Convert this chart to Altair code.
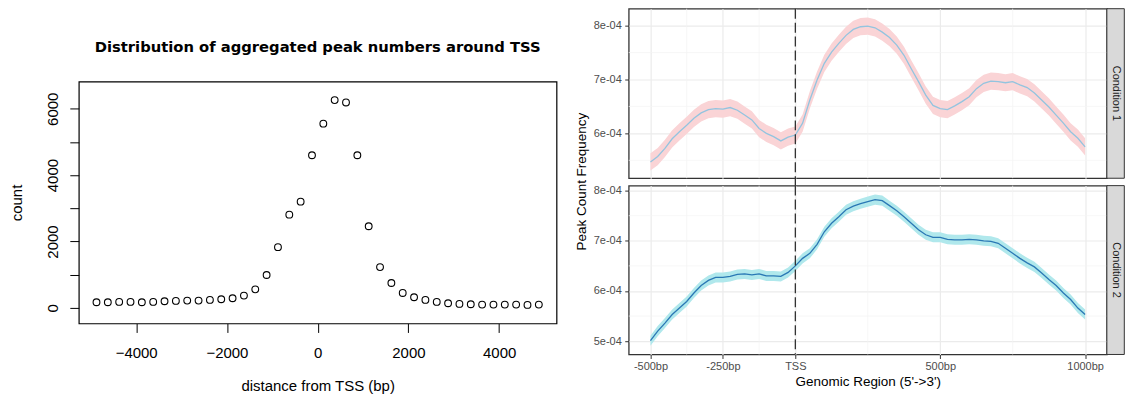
import altair as alt
import pandas as pd

FONT = "Liberation Sans"

# ---------------- left: aggregated peak counts in 250 bp bins ----------------
bin_center = [-4875, -4625, -4375, -4125, -3875, -3625, -3375, -3125, -2875, -2625,
              -2375, -2125, -1875, -1625, -1375, -1125, -875, -625, -375, -125,
              125, 375, 625, 875, 1125, 1375, 1625, 1875, 2125, 2375,
              2625, 2875, 3125, 3375, 3625, 3875, 4125, 4375, 4625, 4875]
peak_count = [170, 170, 180, 180, 170, 180, 200, 210, 220, 220,
              240, 260, 290, 370, 560, 990, 1830, 2810, 3200, 4600,
              5550, 6260, 6190, 4600, 2460, 1230, 750, 450, 320, 240,
              180, 140, 120, 110, 100, 100, 100, 100, 90, 100]
count_ticks = [0, 1000, 2000, 3000, 4000, 5000, 6000]
distance_ticks = [-4000, -2000, 0, 2000, 4000]
main_title = "Distribution of aggregated peak numbers around TSS"

# ---------------- right: peak count frequency profiles ----------------
region_pos = [-500, -475, -450, -425, -400, -375, -350, -325, -300, -275,
              -250, -225, -200, -175, -150, -125, -100, -75, -50, -25,
              0, 25, 50, 75, 100, 125, 150, 175, 200, 225,
              250, 275, 300, 325, 350, 375, 400, 425, 450, 475,
              500, 525, 550, 575, 600, 625, 650, 675, 700, 725,
              750, 775, 800, 825, 850, 875, 900, 925, 950, 975, 1000]
freq_cond1 = [5.47e-4, 5.57e-4, 5.72e-4, 5.90e-4, 6.03e-4, 6.15e-4, 6.28e-4, 6.38e-4, 6.44e-4, 6.46e-4,
              6.45e-4, 6.48e-4, 6.43e-4, 6.34e-4, 6.25e-4, 6.09e-4, 6.00e-4, 5.94e-4, 5.86e-4, 5.93e-4,
              5.97e-4, 6.19e-4, 6.62e-4, 6.99e-4, 7.30e-4, 7.51e-4, 7.67e-4, 7.82e-4, 7.93e-4, 7.98e-4,
              7.99e-4, 7.96e-4, 7.88e-4, 7.78e-4, 7.64e-4, 7.45e-4, 7.20e-4, 6.96e-4, 6.71e-4, 6.52e-4,
              6.46e-4, 6.44e-4, 6.51e-4, 6.59e-4, 6.68e-4, 6.83e-4, 6.93e-4, 6.97e-4, 6.96e-4, 6.94e-4,
              6.96e-4, 6.90e-4, 6.85e-4, 6.75e-4, 6.62e-4, 6.49e-4, 6.34e-4, 6.19e-4, 6.03e-4, 5.91e-4, 5.75e-4]
freq_cond2 = [5.01e-4, 5.20e-4, 5.36e-4, 5.53e-4, 5.66e-4, 5.79e-4, 5.96e-4, 6.11e-4, 6.21e-4, 6.27e-4,
              6.27e-4, 6.29e-4, 6.33e-4, 6.34e-4, 6.32e-4, 6.34e-4, 6.30e-4, 6.30e-4, 6.29e-4, 6.37e-4,
              6.50e-4, 6.65e-4, 6.75e-4, 6.93e-4, 7.18e-4, 7.35e-4, 7.48e-4, 7.62e-4, 7.69e-4, 7.74e-4,
              7.78e-4, 7.82e-4, 7.80e-4, 7.70e-4, 7.60e-4, 7.48e-4, 7.35e-4, 7.22e-4, 7.12e-4, 7.07e-4,
              7.07e-4, 7.03e-4, 7.02e-4, 7.02e-4, 7.03e-4, 7.02e-4, 7.00e-4, 6.99e-4, 6.95e-4, 6.85e-4,
              6.75e-4, 6.65e-4, 6.56e-4, 6.48e-4, 6.36e-4, 6.23e-4, 6.11e-4, 5.96e-4, 5.83e-4, 5.66e-4, 5.53e-4]
conditions = ["Condition 1", "Condition 2"]
ci_half = {"Condition 1": 1.6e-5, "Condition 2": 1.0e-5}
line_color = {"Condition 1": "#93c4df", "Condition 2": "#2a78b5"}
band_color = {"Condition 1": "#fad4d6", "Condition 2": "#b0e8ec"}
region_ticks = [-500, -250, 0, 500, 1000]
region_minor = [-375, -125, 250, 750]
freq_ticks = {"Condition 1": [6e-4, 7e-4, 8e-4], "Condition 2": [5e-4, 6e-4, 7e-4, 8e-4]}
freq_minor = [5.5e-4, 6.5e-4, 7.5e-4]
freq_domain = {"Condition 1": [5.167e-4, 8.315e-4], "Condition 2": [4.735e-4, 8.099e-4]}

profiles = pd.DataFrame({
    "pos": region_pos + region_pos,
    "freq": freq_cond1 + freq_cond2,
    "condition": [conditions[0]] * len(region_pos) + [conditions[1]] * len(region_pos),
})
profiles["lower"] = profiles["freq"] - profiles["condition"].map(ci_half)
profiles["upper"] = profiles["freq"] + profiles["condition"].map(ci_half)

# ---------------- left chart (base-graphics look) ----------------
LW, LH = 479, 242.6
title_cell = alt.Chart(pd.DataFrame({"t": [main_title]})).mark_text(
    font="DejaVu Sans", fontSize=14.8, fontWeight="bold", align="center",
    baseline="alphabetic", color="black"
).encode(text="t:N", x=alt.value(LW / 2), y=alt.value(43)).properties(width=LW, height=72.4)

left_plot = alt.Chart(pd.DataFrame({"distance": bin_center, "count": peak_count})).mark_point(
    shape="circle", filled=False, color="black", size=46, strokeWidth=1.1, opacity=1
).encode(
    x=alt.X("distance:Q",
            scale=alt.Scale(domain=[-5265, 5265], nice=False, zero=False),
            axis=alt.Axis(title="distance from TSS (bp)", values=distance_ticks, format="d",
                          grid=False, domain=False, tickSize=9, tickColor="black", tickWidth=1,
                          labelFontSize=15, labelColor="black", labelPadding=13, labelBaseline="top",
                          titleFontSize=15, titleFontWeight="normal", titleColor="black",
                          titleBaseline="alphabetic", minExtent=35, maxExtent=35, titlePadding=32)),
    y=alt.Y("count:Q",
            scale=alt.Scale(domain=[-469, 6821], nice=False, zero=False),
            axis=alt.Axis(title="count", values=count_ticks,
                          labelExpr="datum.value % 2000 == 0 ? format(datum.value, 'd') : ''",
                          grid=False, domain=False, tickSize=9, tickColor="black", tickWidth=1,
                          labelFontSize=15, labelColor="black", labelAngle=270, labelAlign="center",
                          labelBaseline="alphabetic", labelPadding=12.4,
                          titleFontSize=15, titleFontWeight="normal", titleColor="black",
                          titleBaseline="alphabetic", minExtent=30, maxExtent=30, titlePadding=27.3)),
).properties(width=LW, height=LH, view=alt.ViewBackground(stroke="black", strokeWidth=1.2))

left_col = alt.vconcat(title_cell, left_plot, spacing=0, bounds="flush")

# ---------------- right panels (facet-like profile plots) ----------------
PW = 479.4
PH = {"Condition 1": 170, "Condition 2": 169.3}
GAP = 7.4
STRIP_W = 17.5
GRID = "#ebebeb"
MINOR = "#f4f4f4"


def panel(cond, bottom):
    h = PH[cond]
    xs = alt.Scale(domain=[-575, 1075], nice=False, zero=False)
    ys = alt.Scale(domain=freq_domain[cond], nice=False, zero=False)
    if bottom:
        x_axis = alt.Axis(values=region_ticks,
                          labelExpr="datum.value == 0 ? 'TSS' : datum.value + 'bp'",
                          title="Genomic Region (5'->3')", grid=True, gridColor=GRID, gridWidth=1.2,
                          domain=False, tickSize=4, tickColor="#333333", labelFontSize=11,
                          labelColor="#4d4d4d", labelPadding=2, titleFontSize=13.5,
                          titleFontWeight="normal", titleColor="black", titleBaseline="alphabetic",
                          minExtent=18, maxExtent=18, titlePadding=13)
    else:
        x_axis = alt.Axis(values=region_ticks, labels=False, ticks=False, domain=False,
                          title=None, grid=True, gridColor=GRID, gridWidth=1.2)
    y_axis = alt.Axis(values=freq_ticks[cond],
                      labelExpr="format(datum.value * 10000, '.0f') + 'e-04'",
                      title=None, grid=True, gridColor=GRID, gridWidth=1.2, domain=False,
                      tickSize=4, tickColor="#333333", labelFontSize=11, labelColor="#4d4d4d",
                      labelPadding=3.5)

    data = profiles[profiles["condition"] == cond]
    minor_x = alt.Chart(pd.DataFrame({"v": region_minor})).mark_rule(
        color=MINOR, strokeWidth=0.7).encode(x=alt.X("v:Q", scale=xs, axis=x_axis))
    minor_y = alt.Chart(pd.DataFrame({"v": freq_minor})).mark_rule(
        color=MINOR, strokeWidth=0.7).encode(y=alt.Y("v:Q", scale=ys, axis=y_axis))
    band = alt.Chart(data).mark_area(color=band_color[cond], opacity=1).encode(
        x=alt.X("pos:Q", scale=xs), y=alt.Y("lower:Q", scale=ys), y2="upper:Q")
    line = alt.Chart(data).mark_line(color=line_color[cond], strokeWidth=1.3).encode(
        x=alt.X("pos:Q", scale=xs), y=alt.Y("freq:Q", scale=ys))
    tss = alt.Chart(pd.DataFrame({"tss": [0]}))
    if bottom:
        vline = tss.mark_rule(color="#333333", strokeWidth=1.3, strokeDash=[10, 4]).encode(
            x=alt.X("tss:Q", scale=xs))
    else:
        vline = tss.mark_rule(color="#333333", strokeWidth=1.3, strokeDash=[10, 4]).encode(
            x=alt.X("tss:Q", scale=xs), y=alt.value(0), y2=alt.value(h + GAP))
    strip_df = alt.Chart(pd.DataFrame({"condition": [cond]}))
    strip = strip_df.mark_rect(fill="#d9d9d9", stroke="#333333", strokeWidth=1).encode(
        x=alt.value(PW), x2=alt.value(PW + STRIP_W), y=alt.value(0), y2=alt.value(h))
    strip_text = strip_df.mark_text(angle=90, fontSize=11, color="#1a1a1a",
                                    align="center", baseline="middle").encode(
        text="condition:N", x=alt.value(PW + 9.3), y=alt.value(h / 2))
    layers = [minor_x, minor_y, band, line, vline, strip, strip_text]
    if not bottom:
        ytitle = alt.Chart(pd.DataFrame({"t": ["Peak Count Frequency"]})).mark_text(
            angle=270, fontSize=13.5, color="black", align="center", baseline="alphabetic"
        ).encode(text="t:N", x=alt.value(-42.8), y=alt.value(173.4))
        layers.append(ytitle)
    return alt.layer(*layers).properties(
        width=PW, height=h, view=alt.ViewBackground(stroke="#333333", strokeWidth=1.3))


right_col = alt.vconcat(panel("Condition 1", False), panel("Condition 2", True),
                        spacing=GAP, bounds="flush")

chart = alt.hconcat(left_col, right_col, spacing=16.4).properties(
    padding={"left": 9, "top": 6.2, "right": 0, "bottom": 0}
).configure(font=FONT).configure_view(stroke=None).configure_axis(
    labelFont=FONT, titleFont=FONT)

chart.save("out.html", embed_options={"renderer": "svg", "actions": False})
